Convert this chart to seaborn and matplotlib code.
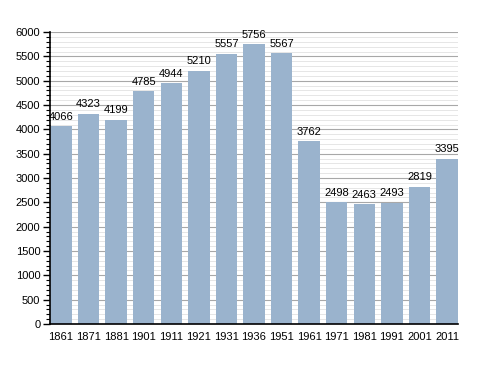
import numpy as np
import pandas as pd
import matplotlib
matplotlib.use("Agg")
import matplotlib.pyplot as plt
import seaborn as sns
from matplotlib.ticker import MultipleLocator

years = ['1861', '1871', '1881', '1901', '1911', '1921', '1931', '1936',
         '1951', '1961', '1971', '1981', '1991', '2001', '2011']
population = [4066, 4323, 4199, 4785, 4944, 5210, 5557, 5756,
              5567, 3762, 2498, 2463, 2493, 2819, 3395]

df = pd.DataFrame({'year': years, 'pop': population})

sns.set_style('white')
plt.rcParams['font.family'] = ['Liberation Sans', 'DejaVu Sans']
plt.rcParams['text.color'] = 'black'
plt.rcParams['xtick.color'] = 'black'
plt.rcParams['ytick.color'] = 'black'

fig = plt.figure(figsize=(4.88, 3.73), dpi=100)
ax = fig.add_axes([0.1025, 0.1314, 0.836, 0.7826])

sns.barplot(data=df, x='year', y='pop', color='#9ab3cd', saturation=1,
            width=0.78, linewidth=0, ax=ax, zorder=3)

ax.set_ylim(0, 6000)
ax.set_xlim(-0.4, len(years) - 0.6)
ax.yaxis.set_major_locator(MultipleLocator(500))
ax.yaxis.set_minor_locator(MultipleLocator(100))
ax.grid(axis='y', which='major', color='#a8a8a8', linewidth=0.8, zorder=0)
ax.grid(axis='y', which='minor', color='#e2e2e2', linewidth=0.6, zorder=0)
ax.set_axisbelow(True)

for s in ['top', 'right']:
    ax.spines[s].set_visible(False)
for s in ['left', 'bottom']:
    ax.spines[s].set_color('black')
    ax.spines[s].set_linewidth(1.2)
    ax.spines[s].set_zorder(5)

ax.tick_params(axis='y', which='major', left=True, length=5, width=1, labelsize=8, pad=2)
ax.tick_params(axis='y', which='minor', left=True, length=3, width=0.8)
ax.tick_params(axis='x', bottom=False, labelsize=8, pad=2)
ax.set_xlabel('')
ax.set_ylabel('')

for i, v in enumerate(population):
    ax.text(i, v + 90, str(v), ha='center', va='bottom', fontsize=8)

fig.savefig('out.png', dpi=100)
